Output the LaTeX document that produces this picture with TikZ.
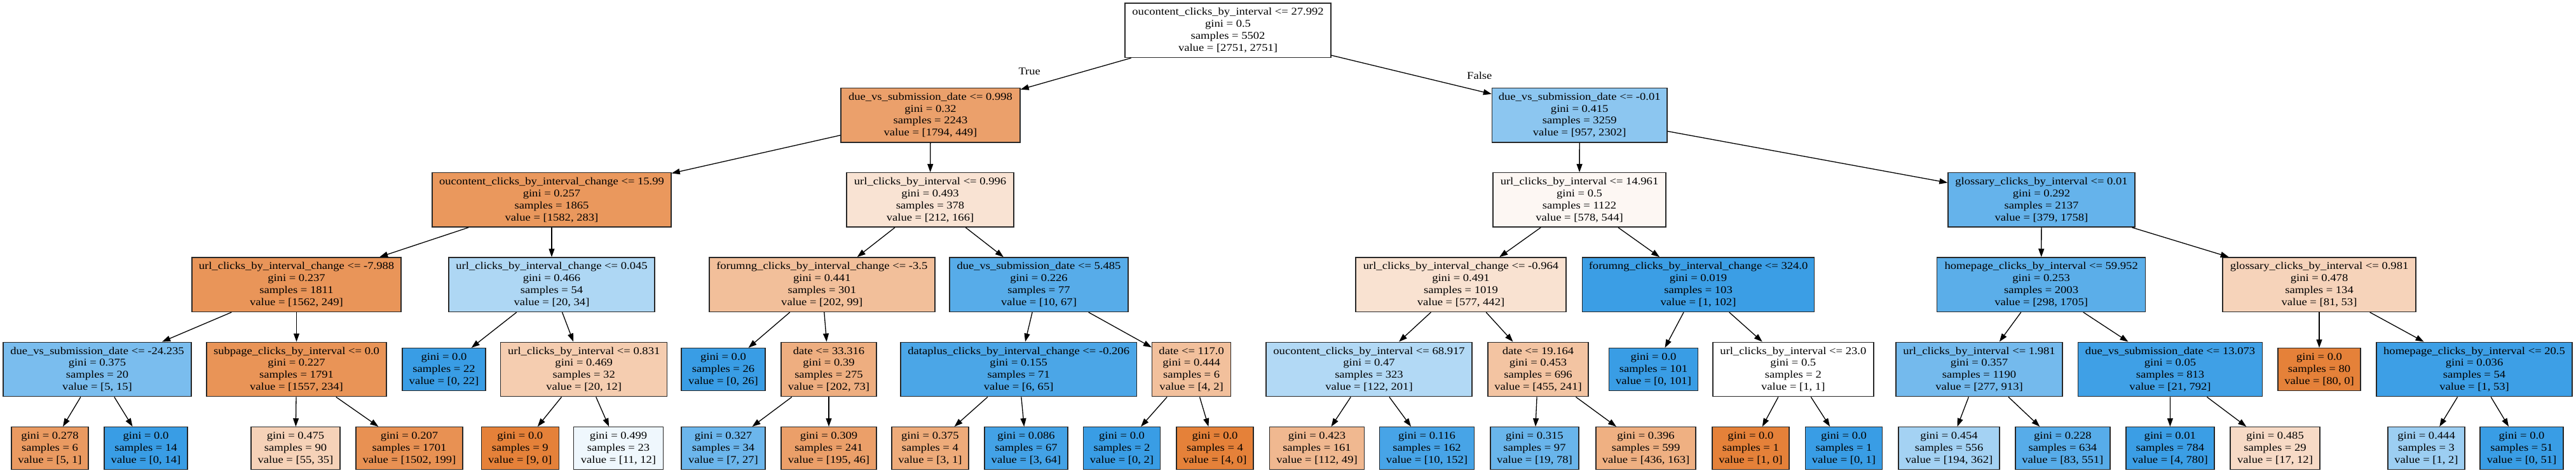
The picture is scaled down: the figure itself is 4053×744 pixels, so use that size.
\documentclass[tikz,border=0pt]{standalone}
\usepackage{fontspec}
\setmainfont{Liberation Serif}[FakeStretch=1.14]
\usetikzlibrary{arrows.meta}
\definecolor{cO}{RGB}{229,129,57}
\definecolor{cB}{RGB}{57,157,229}
\definecolor{bord}{RGB}{40,40,40}
\tikzset{
  tn/.style={draw=bord, line width=1.4pt, inner sep=0pt, align=center,
    minimum height=85.5pt, font=\fontsize{16.3}{18.9}\selectfont},
  lf/.style={tn, minimum height=66.6pt},
  ed/.style={line width=1.3pt, -{Triangle[length=13pt,width=9pt]}},
  elab/.style={inner sep=0pt, font=\fontsize{16.3}{18.9}\selectfont},
}
\begin{document}
\begin{tikzpicture}[x=1pt,y=-1pt]
\fill[white] (0,0) rectangle (4053,744);
\useasboundingbox (0,0) rectangle (4053,744);
% level 0
\node[tn,minimum width=324,fill=white] (R) at (1932,47.75) {oucontent\_clicks\_by\_interval <= 27.992\\gini = 0.5\\samples = 5502\\value = [2751, 2751]};
% level 1
\node[tn,minimum width=282,fill=cO!75!white] (A) at (1464,181.1) {due\_vs\_submission\_date <= 0.998\\gini = 0.32\\samples = 2243\\value = [1794, 449]};
\node[tn,minimum width=275.5,fill=cB!58!white] (B) at (2485.2,181.1) {due\_vs\_submission\_date <= -0.01\\gini = 0.415\\samples = 3259\\value = [957, 2302]};
% level 2
\node[tn,minimum width=376,fill=cO!82!white] (A1) at (868,314.4) {oucontent\_clicks\_by\_interval\_change <= 15.99\\gini = 0.257\\samples = 1865\\value = [1582, 283]};
\node[tn,minimum width=263,fill=cO!22!white] (A2) at (1463.5,314.4) {url\_clicks\_by\_interval <= 0.996\\gini = 0.493\\samples = 378\\value = [212, 166]};
\node[tn,minimum width=272,fill=cO!6!white] (B1) at (2485,314.4) {url\_clicks\_by\_interval <= 14.961\\gini = 0.5\\samples = 1122\\value = [578, 544]};
\node[tn,minimum width=294,fill=cB!78!white] (B2) at (3212,314.4) {glossary\_clicks\_by\_interval <= 0.01\\gini = 0.292\\samples = 2137\\value = [379, 1758]};
% level 3
\node[tn,minimum width=329,fill=cO!84!white] (A11) at (466.5,447.7) {url\_clicks\_by\_interval\_change <= -7.988\\gini = 0.237\\samples = 1811\\value = [1562, 249]};
\node[tn,minimum width=324,fill=cB!41!white] (A12) at (868,447.7) {url\_clicks\_by\_interval\_change <= 0.045\\gini = 0.466\\samples = 54\\value = [20, 34]};
\node[tn,minimum width=355,fill=cO!51!white] (A21) at (1293.3,447.7) {forumng\_clicks\_by\_interval\_change <= -3.5\\gini = 0.441\\samples = 301\\value = [202, 99]};
\node[tn,minimum width=281,fill=cB!85!white] (A22) at (1634.5,447.7) {due\_vs\_submission\_date <= 5.485\\gini = 0.226\\samples = 77\\value = [10, 67]};
\node[tn,minimum width=331,fill=cO!23!white] (B11) at (2298.5,447.7) {url\_clicks\_by\_interval\_change <= -0.964\\gini = 0.491\\samples = 1019\\value = [577, 442]};
\node[tn,minimum width=365,fill=cB!99!white] (B12) at (2672,447.7) {forumng\_clicks\_by\_interval\_change <= 324.0\\gini = 0.019\\samples = 103\\value = [1, 102]};
\node[tn,minimum width=328,fill=cB!83!white] (B21) at (3211.6,447.7) {homepage\_clicks\_by\_interval <= 59.952\\gini = 0.253\\samples = 2003\\value = [298, 1705]};
\node[tn,minimum width=304,fill=cO!35!white] (B22) at (3649,447.7) {glossary\_clicks\_by\_interval <= 0.981\\gini = 0.478\\samples = 134\\value = [81, 53]};
% level 4
\node[tn,minimum width=296,fill=cB!67!white] (A111) at (153,581) {due\_vs\_submission\_date <= -24.235\\gini = 0.375\\samples = 20\\value = [5, 15]};
\node[tn,minimum width=283,fill=cO!85!white] (A112) at (466.5,581) {subpage\_clicks\_by\_interval <= 0.0\\gini = 0.227\\samples = 1791\\value = [1557, 234]};
\node[lf,minimum width=131,fill=cB] (A121) at (698.5,581) {gini = 0.0\\samples = 22\\value = [0, 22]};
\node[tn,minimum width=262,fill=cO!40!white] (A122) at (918.7,581) {url\_clicks\_by\_interval <= 0.831\\gini = 0.469\\samples = 32\\value = [20, 12]};
\node[lf,minimum width=132,fill=cB] (A211) at (1138,581) {gini = 0.0\\samples = 26\\value = [0, 26]};
\node[tn,minimum width=150,fill=cO!64!white] (A212) at (1304,581) {date <= 33.316\\gini = 0.39\\samples = 275\\value = [202, 73]};
\node[tn,minimum width=371.5,fill=cB!91!white] (A221) at (1602.7,581) {dataplus\_clicks\_by\_interval\_change <= -0.206\\gini = 0.155\\samples = 71\\value = [6, 65]};
\node[tn,minimum width=124,fill=cO!50!white] (A222) at (1874.6,581) {date <= 117.0\\gini = 0.444\\samples = 6\\value = [4, 2]};
\node[tn,minimum width=324,fill=cB!39!white] (B111) at (2154,581) {oucontent\_clicks\_by\_interval <= 68.917\\gini = 0.47\\samples = 323\\value = [122, 201]};
\node[tn,minimum width=158,fill=cO!47!white] (B112) at (2420,581) {date <= 19.164\\gini = 0.453\\samples = 696\\value = [455, 241]};
\node[lf,minimum width=140,fill=cB] (B121) at (2601.5,581) {gini = 0.0\\samples = 101\\value = [0, 101]};
\node[tn,minimum width=253,fill=white] (B122) at (2821.3,581) {url\_clicks\_by\_interval <= 23.0\\gini = 0.5\\samples = 2\\value = [1, 1]};
\node[tn,minimum width=262,fill=cB!70!white] (B211) at (3114,581) {url\_clicks\_by\_interval <= 1.981\\gini = 0.357\\samples = 1190\\value = [277, 913]};
\node[tn,minimum width=290,fill=cB!97!white] (B212) at (3414.5,581) {due\_vs\_submission\_date <= 13.073\\gini = 0.05\\samples = 813\\value = [21, 792]};
\node[lf,minimum width=130,fill=cO] (B221) at (3649,581) {gini = 0.0\\samples = 80\\value = [80, 0]};
\node[tn,minimum width=308,fill=cB!98!white] (B222) at (3893,581) {homepage\_clicks\_by\_interval <= 20.5\\gini = 0.036\\samples = 54\\value = [1, 53]};
% level 5
\node[lf,minimum width=121,fill=cO!80!white] (A1111) at (78.5,705) {gini = 0.278\\samples = 6\\value = [5, 1]};
\node[lf,minimum width=131,fill=cB] (A1112) at (229.5,705) {gini = 0.0\\samples = 14\\value = [0, 14]};
\node[lf,minimum width=140,fill=cO!36!white] (A1121) at (465,705) {gini = 0.475\\samples = 90\\value = [55, 35]};
\node[lf,minimum width=168,fill=cO!87!white] (A1122) at (644,705) {gini = 0.207\\samples = 1701\\value = [1502, 199]};
\node[lf,minimum width=122,fill=cO] (A1221) at (818.3,705) {gini = 0.0\\samples = 9\\value = [9, 0]};
\node[lf,minimum width=140.6,fill=cB!8!white] (A1222) at (973,705) {gini = 0.499\\samples = 23\\value = [11, 12]};
\node[lf,minimum width=132,fill=cB!74!white] (A2121) at (1138,705) {gini = 0.327\\samples = 34\\value = [7, 27]};
\node[lf,minimum width=150,fill=cO!76!white] (A2122) at (1304,705) {gini = 0.309\\samples = 241\\value = [195, 46]};
\node[lf,minimum width=121,fill=cO!67!white] (A2211) at (1463.4,705) {gini = 0.375\\samples = 4\\value = [3, 1]};
\node[lf,minimum width=131,fill=cB!95!white] (A2212) at (1614.5,705) {gini = 0.086\\samples = 67\\value = [3, 64]};
\node[lf,minimum width=121,fill=cB] (A2221) at (1765,705) {gini = 0.0\\samples = 2\\value = [0, 2]};
\node[lf,minimum width=121,fill=cO] (A2222) at (1911.5,705) {gini = 0.0\\samples = 4\\value = [4, 0]};
\node[lf,minimum width=149,fill=cO!56!white] (B1111) at (2072,705) {gini = 0.423\\samples = 161\\value = [112, 49]};
\node[lf,minimum width=149,fill=cB!93!white] (B1112) at (2245,705) {gini = 0.116\\samples = 162\\value = [10, 152]};
\node[lf,minimum width=139,fill=cB!76!white] (B1121) at (2414.4,705) {gini = 0.315\\samples = 97\\value = [19, 78]};
\node[lf,minimum width=157,fill=cO!63!white] (B1122) at (2589.5,705) {gini = 0.396\\samples = 599\\value = [436, 163]};
\node[lf,minimum width=121,fill=cO] (B1221) at (2754.4,705) {gini = 0.0\\samples = 1\\value = [1, 0]};
\node[lf,minimum width=121,fill=cB] (B1222) at (2901,705) {gini = 0.0\\samples = 1\\value = [0, 1]};
\node[lf,minimum width=159,fill=cB!46!white] (B2111) at (3066.5,705) {gini = 0.454\\samples = 556\\value = [194, 362]};
\node[lf,minimum width=149,fill=cB!85!white] (B2112) at (3245.3,705) {gini = 0.228\\samples = 634\\value = [83, 551]};
\node[lf,minimum width=139,fill=cB!99!white] (B2121) at (3414.3,705) {gini = 0.01\\samples = 784\\value = [4, 780]};
\node[lf,minimum width=141,fill=cO!29!white] (B2122) at (3579.5,705) {gini = 0.485\\samples = 29\\value = [17, 12]};
\node[lf,minimum width=121,fill=cB!50!white] (B2221) at (3817.5,705) {gini = 0.444\\samples = 3\\value = [1, 2]};
\node[lf,minimum width=131,fill=cB] (B2222) at (3967.5,705) {gini = 0.0\\samples = 51\\value = [0, 51]};
% edge labels
\node[elab] (lT) at (1619.7,112.3) {True};
\node[elab] (lF) at (2327.8,118.9) {False};
% edges
\foreach \p/\c in {R/A,R/B,A/A1,A/A2,B/B1,B/B2,
  A1/A11,A1/A12,A2/A21,A2/A22,B1/B11,B1/B12,B2/B21,B2/B22,
  A11/A111,A11/A112,A12/A121,A12/A122,A21/A211,A21/A212,A22/A221,A22/A222,
  B11/B111,B11/B112,B12/B121,B12/B122,B21/B211,B21/B212,B22/B221,B22/B222,
  A111/A1111,A111/A1112,A112/A1121,A112/A1122,A122/A1221,A122/A1222,
  A212/A2121,A212/A2122,A221/A2211,A221/A2212,A222/A2221,A222/A2222,
  B111/B1111,B111/B1112,B112/B1121,B112/B1122,B122/B1221,B122/B1222,
  B211/B2111,B211/B2112,B212/B2121,B212/B2122,B222/B2221,B222/B2222}
  \draw[ed] (\p) -- (\c);
\end{tikzpicture}
\end{document}
